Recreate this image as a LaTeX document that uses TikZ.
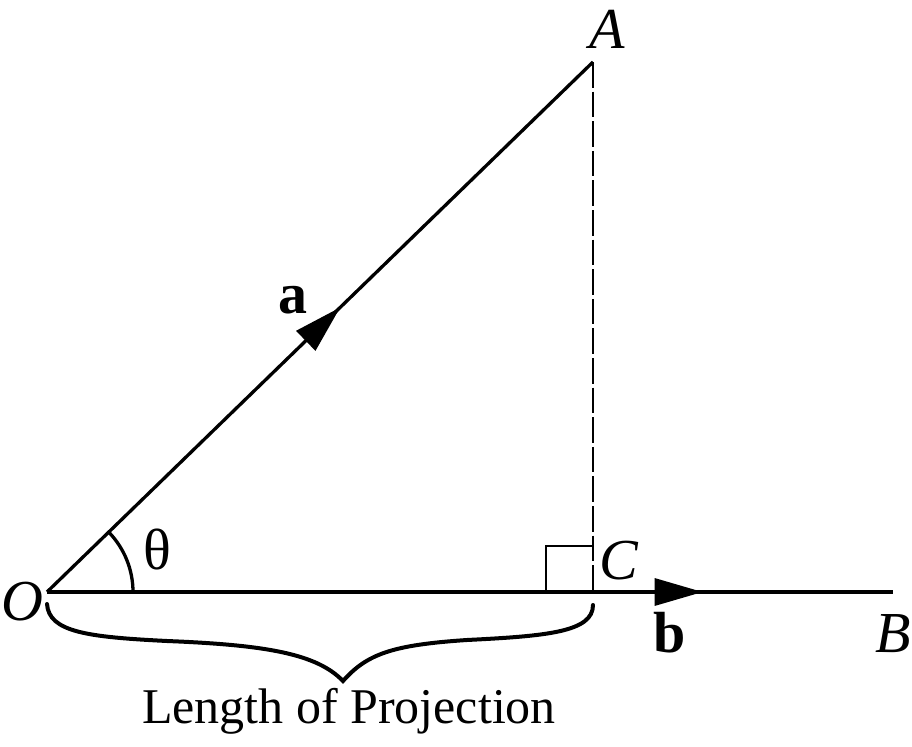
\documentclass[tikz,border=0pt]{standalone}
\usepackage{fontspec}
\setmainfont{Liberation Serif}
\usetikzlibrary{arrows.meta,decorations.markings}

\begin{document}
\begin{tikzpicture}[x=0.5pt, y=0.5pt,
  lbl/.style={inner sep=0pt, font=\fontsize{29}{34}\selectfont},
  ilbl/.style={inner sep=0pt, font=\fontsize{29}{34}\selectfont\itshape},
  blbl/.style={inner sep=0pt, font=\fontsize{29}{34}\selectfont\bfseries},
  vec/.style={line width=1.65pt},
  midarrow/.style={decoration={markings, mark=at position #1 with {\arrow{Triangle[length=24pt,width=13.5pt]}}}, postaction={decorate}}]
\useasboundingbox (-47,-154) rectangle (865,592);
\coordinate (O) at (0,0);
\coordinate (A) at (546,530);
\coordinate (C) at (546,0);
\coordinate (B) at (846,0);
%vectors
\draw[vec, midarrow=0.537] (O) -- (A);
\draw[vec, midarrow=0.775] (O) -- (B);
\draw[line width=1pt, dash pattern=on 12.8pt off 2pt] (A) -- (C);
\draw[line width=0.75pt] (C) ++(-47,0) |- ++(47,46);
\draw[vec] (O) ++(86,0) arc[start angle=0, end angle=44.15, radius=43pt];
%brace
\draw[line width=2pt, line cap=round] (0,-12) .. controls (2,-40) and (40,-45) .. (120,-49)
  .. controls (220,-53) and (270,-62) .. (296,-89)
  .. controls (320,-62) and (345,-53) .. (420,-48)
  .. controls (500,-44) and (546,-40) .. (546,-13);
%labels
\node[ilbl] (lO) at (-25,-10) {O};
\node[ilbl] (lA) at (560,563) {A};
\node[ilbl] (lC) at (572,31) {C};
\node[ilbl] (lB) at (846,-42) {B};
\node[blbl] (la) at (246,292) {a};
\node[blbl] (lb) at (623,-41) {b};
\node[lbl] (lth) at (110,42) {θ};
\node[inner sep=0pt, anchor=base, font=\fontsize{25}{30}\selectfont] (proj) at (302,-131) {Length of Projection};
\end{tikzpicture}
\end{document}
